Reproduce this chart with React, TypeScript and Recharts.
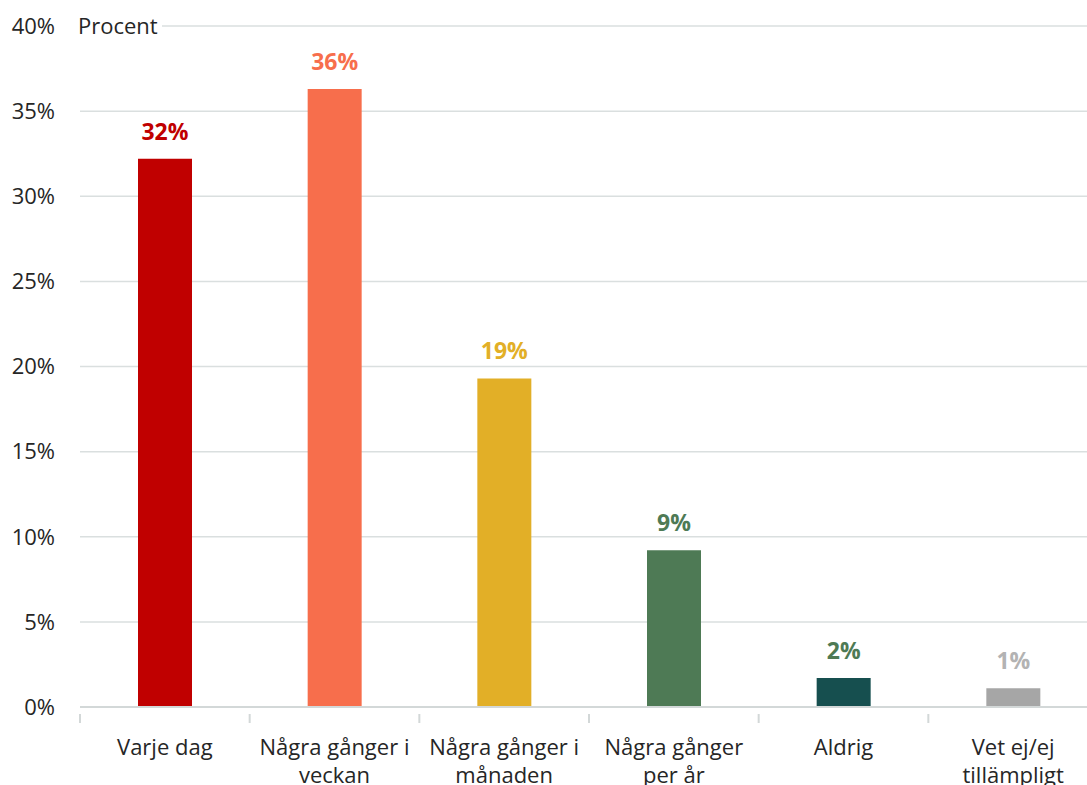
import { BarChart, Bar, XAxis, YAxis, CartesianGrid, Cell, LabelList } from 'recharts';

const categories = ['Varje dag', 'Några gånger i\nveckan', 'Några gånger i\nmånaden', 'Några gånger\nper år', 'Aldrig', 'Vet ej/ej\ntillämpligt'];
const values = [32.2, 36.3, 19.3, 9.2, 1.7, 1.1];
const barColors = ['#c00000', '#f76e4c', '#e2af27', '#4e7a55', '#164f4f', '#a6a6a6'];
const labelColors = ['#c00000', '#f76e4c', '#e2af27', '#4e7a55', '#4e7a55', '#b3b3b3'];
const yTicks = [0, 5, 10, 15, 20, 25, 30, 35, 40];

const FONT = '"Open Sans", "Noto Sans", sans-serif';
const W = 1098;
const H = 785;
const PLOT_LEFT = 80;
const BAND = (W - PLOT_LEFT) / categories.length;

const data = categories.map((name, i) => ({ name, value: values[i] }));

function CategoryTick(props: any) {
  const { x, y, payload } = props;
  const lines = String(payload.value).split('\n');
  const left = x - BAND / 2;
  return (
    <g>
      <line x1={left} x2={left} y1={y - 1} y2={y + 8} stroke="#d3d8d8" strokeWidth={2} />
      {lines.map((line, i) => (
        <text
          key={i}
          x={x}
          y={y + 40 + i * 28}
          textAnchor="middle"
          fill="#262626"
          fontSize={22}
          fontFamily={FONT}
        >
          {line}
        </text>
      ))}
    </g>
  );
}

function ValueLabel(props: any) {
  const { x, y, width, value, index } = props;
  return (
    <text
      x={x + width / 2}
      y={y - 19}
      textAnchor="middle"
      fill={labelColors[index]}
      fontSize={23}
      fontWeight={700}
      fontFamily={FONT}
    >
      {Math.round(value)}%
    </text>
  );
}

export default function App() {
  return (
    <div style={{ position: 'fixed', left: 0, top: 0, width: 1087, height: 785, overflow: 'hidden', background: '#fff' }}>
      <BarChart width={W} height={H} data={data} margin={{ top: 26, right: 0, bottom: 0, left: 0 }}>
        <CartesianGrid vertical={false} stroke="#dadfdf" strokeWidth={1.5} />
        <XAxis
          dataKey="name"
          height={78}
          tickLine={false}
          axisLine={{ stroke: '#d3d8d8', strokeWidth: 2 }}
          tick={<CategoryTick />}
          interval={0}
        />
        <YAxis
          width={PLOT_LEFT}
          domain={[0, 40]}
          ticks={yTicks}
          tickFormatter={(v: number) => `${v}%`}
          axisLine={false}
          tickLine={false}
          tickSize={0}
          tickMargin={25}
          tick={{ fill: '#262626', fontSize: 22, fontFamily: FONT }}
        />
        <Bar dataKey="value" barSize={54} isAnimationActive={false}>
          {data.map((_, i) => (
            <Cell key={`cell-${i}`} fill={barColors[i]} />
          ))}
          <LabelList dataKey="value" content={<ValueLabel />} />
        </Bar>
      </BarChart>
      <div
        style={{
          position: 'absolute',
          left: 74,
          top: 10,
          padding: '0 4px',
          background: '#fff',
          fontFamily: FONT,
          fontSize: 22,
          lineHeight: '30px',
          color: '#262626',
        }}
      >
        Procent
      </div>
    </div>
  );
}
